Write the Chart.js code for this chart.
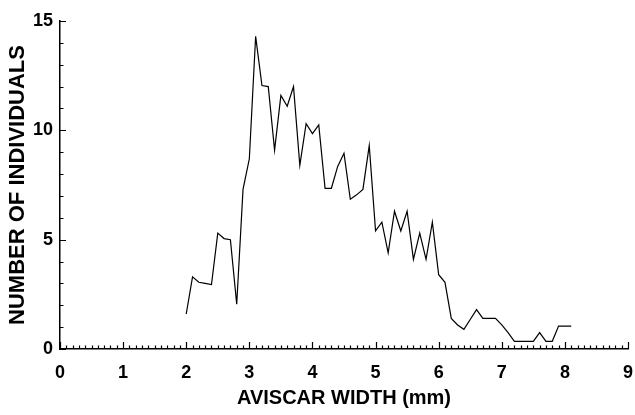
<!DOCTYPE html>
<html>
<head>
<meta charset="utf-8">
<script src="https://cdn.jsdelivr.net/npm/chart.js@4"></script>
<style>
  body { margin: 0; background: #fff; }
  #wrap { width: 635px; height: 415px; }
</style>
</head>
<body>
<div id="wrap"><canvas id="aviscarChart"></canvas></div>
<script>
// aviscar width classes (mm), one every 0.1 mm
const widths = [
  2.0, 2.1, 2.2, 2.3, 2.4, 2.5, 2.6, 2.7, 2.8, 2.9,
  3.0, 3.1, 3.2, 3.3, 3.4, 3.5, 3.6, 3.7, 3.8, 3.9,
  4.0, 4.1, 4.2, 4.3, 4.4, 4.5, 4.6, 4.7, 4.8, 4.9,
  5.0, 5.1, 5.2, 5.3, 5.4, 5.5, 5.6, 5.7, 5.8, 5.9,
  6.0, 6.1, 6.2, 6.3, 6.4, 6.5, 6.6, 6.7, 6.8, 6.9,
  7.0, 7.1, 7.2, 7.3, 7.4, 7.5, 7.6, 7.7, 7.8, 7.9,
  8.0, 8.1,
];

// number of individuals per width class
const individuals = [
  1.6, 3.3, 3.05, 3.0, 2.95, 5.3, 5.05, 5.0, 2.05, 7.3,
  8.7, 14.3, 12.05, 12.0, 9.1, 11.6, 11.1, 12.0, 8.4, 10.3,
  9.85, 10.25, 7.35, 7.35, 8.35, 8.95, 6.85, 7.05, 7.3, 9.3,
  5.4, 5.8, 4.4, 6.3, 5.4, 6.3, 4.1, 5.3, 4.1, 5.8,
  3.4, 3.05, 1.4, 1.1, 0.9, 1.35, 1.8, 1.4, 1.4, 1.4,
  1.1, 0.75, 0.35, 0.35, 0.35, 0.35, 0.75, 0.35, 0.35, 1.05,
  1.05, 1.05,
];

// axis ranges
const xMin = 0, xMax = 9, xStep = 0.1;
const yMin = 0, yMax = 15, yStep = 1;

const isWhole = (v) => Math.abs(v - Math.round(v)) < 1e-6;

// tick marks point into the plot, like the printed figure
const innerTicks = {
  id: "innerTicks",
  afterDraw(chart) {
    const { ctx, chartArea, scales } = chart;
    ctx.save();
    ctx.strokeStyle = "#000";
    ctx.lineWidth = 1.2;
    ctx.beginPath();
    scales.x.ticks.forEach((t) => {
      const px = Math.round(scales.x.getPixelForValue(t.value)) + 0.5;
      const len = isWhole(t.value) ? 7 : 3.5;
      ctx.moveTo(px, chartArea.bottom);
      ctx.lineTo(px, chartArea.bottom - len);
    });
    scales.y.ticks.forEach((t) => {
      const py = Math.round(scales.y.getPixelForValue(t.value)) + 0.5;
      const len = t.value % 5 === 0 ? 6 : 3.5;
      ctx.moveTo(chartArea.left, py);
      ctx.lineTo(chartArea.left + len, py);
    });
    ctx.stroke();
    ctx.restore();
  },
};

document.addEventListener("DOMContentLoaded", () => {
  const ctx = document.getElementById("aviscarChart").getContext("2d");
  const points = widths.map((w, i) => ({ x: w, y: individuals[i] }));
  const font = "'Liberation Sans', Arial, Helvetica, sans-serif";

  new Chart(ctx, {
    type: "line",
    data: {
      datasets: [
        {
          data: points,
          borderColor: "#000",
          borderWidth: 1.2,
          pointRadius: 0,
          tension: 0,
          fill: false,
        },
      ],
    },
    options: {
      responsive: true,
      maintainAspectRatio: false,
      animation: false,
      layout: { padding: { top: 21, right: 7, left: 0, bottom: 0 } },
      plugins: {
        legend: { display: false },
        tooltip: { enabled: false },
      },
      scales: {
        x: {
          type: "linear",
          min: xMin,
          max: xMax,
          grid: { display: false, drawTicks: false },
          border: { display: true, color: "#000", width: 1.5 },
          ticks: {
            stepSize: xStep,
            autoSkip: false,
            maxRotation: 0,
            padding: 13,
            color: "#000",
            font: { family: font, size: 18, weight: "bold" },
            callback: (v) => (isWhole(v) ? String(Math.round(v)) : ""),
          },
          title: {
            display: true,
            text: "AVISCAR WIDTH (mm)",
            color: "#000",
            font: { family: font, size: 20, weight: "bold" },
            padding: { top: 0, bottom: 5 },
          },
          afterFit: (scale) => {
            scale.height = 66;
            scale.paddingLeft = 0;
            scale.paddingRight = 0;
          },
        },
        y: {
          min: yMin,
          max: yMax,
          grid: { display: false, drawTicks: false },
          border: { display: true, color: "#000", width: 1.5 },
          ticks: {
            stepSize: yStep,
            autoSkip: false,
            padding: 7,
            color: "#000",
            font: { family: font, size: 18, weight: "bold" },
            callback: (v) => (v % 5 === 0 ? String(v) : ""),
          },
          title: {
            display: true,
            text: "NUMBER OF INDIVIDUALS",
            color: "#000",
            font: { family: font, size: 22, weight: "bold" },
            padding: { top: 5, bottom: 0 },
          },
          afterFit: (scale) => {
            scale.width = 60;
          },
        },
      },
    },
    plugins: [innerTicks],
  });
});
</script>
</body>
</html>
